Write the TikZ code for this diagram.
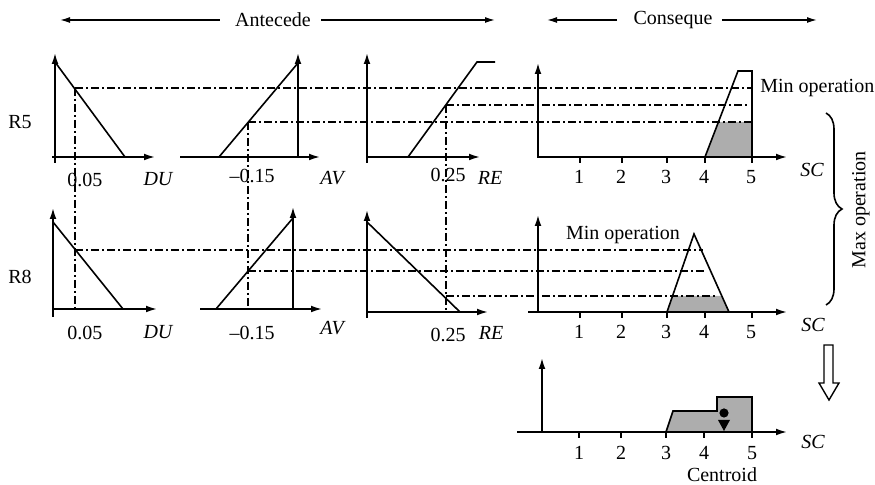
\documentclass[tikz,border=0pt]{standalone}
\usepackage{fontspec}
\setmainfont{Liberation Serif}
\usetikzlibrary{arrows.meta,decorations.pathreplacing,calc}
\begin{document}
\begin{tikzpicture}[x=0.5pt,y=-0.5pt,
  axis/.style={line width=0.8pt,-{Latex[length=5.5pt,width=3.4pt]}},
  mf/.style={line width=0.8pt},
  tickmark/.style={line width=0.7pt},
  level/.style={line width=0.6pt,dash pattern=on 4pt off 1.5pt on 1pt off 1.5pt},
  lbl/.style={font=\fontsize{10}{12}\selectfont, inner sep=0pt},
  var/.style={font=\fontsize{10}{12}\selectfont\itshape, inner sep=0pt},
  shade/.style={fill=black!32},
  hdr/.style={line width=0.7pt,-{Latex[length=5pt,width=3pt]}}
]
\useasboundingbox (0,0) rectangle (875,485);

% ---------- header ----------
\node[lbl] (ant) at (273,20) {Antecede};
\node[lbl] (con) at (673,20) {Conseque};
\coordinate (antL) at (60,20);
\coordinate (antR) at (495,20);
\coordinate (conL) at (547,20);
\coordinate (conR) at (817,20);
\draw[hdr] ($(ant.west)+(-15,0)$) -- (antL);
\draw[hdr] ($(ant.east)+(10,0)$) -- (antR);
\draw[hdr] ($(con.west)+(-16,0)$) -- (conL);
\draw[hdr] ($(con.east)+(9,0)$) -- (conR);

\node[lbl] (r5) at (20,122) {R5};
\node[lbl] (r8) at (20,277) {R8};

% ---------- shaded areas ----------
\fill[shade] (705,157) -- (718.4,122) -- (752,122) -- (752,157) -- cycle;
\fill[shade] (667,312) -- (672.8,296) -- (721.5,296) -- (729,312) -- cycle;
\filldraw[shade,draw=black,line width=0.8pt] (666,432) -- (673,411) -- (717,411) -- (717,397) -- (752,397) -- (752,432) -- cycle;

% ---------- level lines ----------
\draw[level] (75,88) -- (752,88);
\draw[level] (446,105) -- (750,105);
\draw[level] (248,122) -- (752,122);
\draw[level] (75,88) -- (75,309);
\draw[level] (248,122) -- (248,310);
\draw[level] (446,105) -- (446,312);
\draw[level] (75,250) -- (703,250);
\draw[level] (248,271) -- (707,271);
\draw[level] (446,296) -- (718,296);

% ---------- R5 : DU ----------
\draw[axis] (55,163) -- (55,53);
\draw[axis] (52,157) -- (155,157);
\draw[mf] (55,62) -- (125,157);
\node[lbl] (r5du0) at (85,180) {0.05};
\node[var] (r5du) at (158,179) {DU};

% ---------- R5 : AV ----------
\draw[axis] (180,157) -- (320,157);
\draw[axis] (298,157) -- (298,53);
\draw[mf] (219,157) -- (298,63);
\node[lbl] (r5av0) at (252,176) {\textendash0.15};
\node[var] (r5av) at (332,178) {AV};

% ---------- R5 : RE ----------
\draw[axis] (367,163) -- (367,53);
\draw[axis] (367,157) -- (480,157);
\draw[mf] (408,157) -- (477,62) -- (495,62);
\node[lbl] (r5re0) at (448,175) {0.25};
\node[var] (r5re) at (490,178) {RE};

% ---------- R5 : consequent ----------
\draw[axis] (538,157) -- (538,63);
\draw[axis] (537,157) -- (787,157);
\foreach \x/\t in {580/1,622/2,667/3,705/4,752/5}{
  \draw[tickmark] (\x,157) -- (\x,163);
  \node[lbl] (r5t\t) at (\x-1,177) {\t};
}
\draw[mf] (705,157) -- (738,71) -- (752,71) -- (752,157);
\node[lbl,anchor=west] (r5min) at (760,88) {Min operation};
\node[var] (r5sc) at (812,170) {SC};

% ---------- R8 : DU ----------
\draw[axis] (53,317) -- (53,208);
\draw[axis] (53,309) -- (157,309);
\draw[mf] (53,222) -- (123,309);
\node[lbl] (r8du0) at (85,333) {0.05};
\node[var] (r8du) at (158,332) {DU};

% ---------- R8 : AV ----------
\draw[axis] (200,309) -- (322,309);
\draw[axis] (293,309) -- (293,207);
\draw[mf] (216,309) -- (293,218);
\node[lbl] (r8av0) at (252,333) {\textendash0.15};
\node[var] (r8av) at (332,328) {AV};

% ---------- R8 : RE ----------
\draw[axis] (367,318) -- (367,210);
\draw[axis] (367,312) -- (488,312);
\draw[mf] (367,222) -- (460,312);
\node[lbl] (r8re0) at (448,335) {0.25};
\node[var] (r8re) at (491,333) {RE};

% ---------- R8 : consequent ----------
\draw[axis] (538,312) -- (538,215);
\draw[axis] (528,312) -- (787,312);
\foreach \x/\t in {580/1,622/2,667/3,705/4,752/5}{
  \draw[tickmark] (\x,312) -- (\x,318);
  \node[lbl] (r8t\t) at (\x-1,332) {\t};
}
\draw[mf] (667,312) -- (694,234) -- (729,312);
\node[lbl] (r8min) at (623,235) {Min operation};
\node[var] (r8sc) at (813,325) {SC};

% ---------- brace ----------
\coordinate (brT) at (826,113);
\coordinate (brB) at (826,305);
\draw[decorate,decoration={brace,amplitude=8pt},line width=0.8pt] (brT) -- (brB);
\node[lbl,rotate=90] (maxop) at (861,210) {Max operation};

% ---------- hollow arrow ----------
\draw[line width=0.7pt] (824,345) -- (833,345) -- (833,383) -- (839,383) -- (829,400) -- (819,383) -- (824,383) -- cycle;

% ---------- result ----------
\draw[axis] (542,432) -- (542,358);
\draw[axis] (517,432) -- (787,432);
\foreach \x/\t in {579/1,621/2,666/3,704/4,752/5}{
  \draw[tickmark] (\x,432) -- (\x,438);
  \node[lbl] (rt\t) at (\x,453) {\t};
}
\fill[black] (724,413) circle[radius=2.3pt];
\fill[black] (718,420) -- (730,420) -- (724,431) -- cycle;
\node[lbl] (centroid) at (722,475) {Centroid};
\node[var] (rsc) at (813,442) {SC};
\end{tikzpicture}
\end{document}
